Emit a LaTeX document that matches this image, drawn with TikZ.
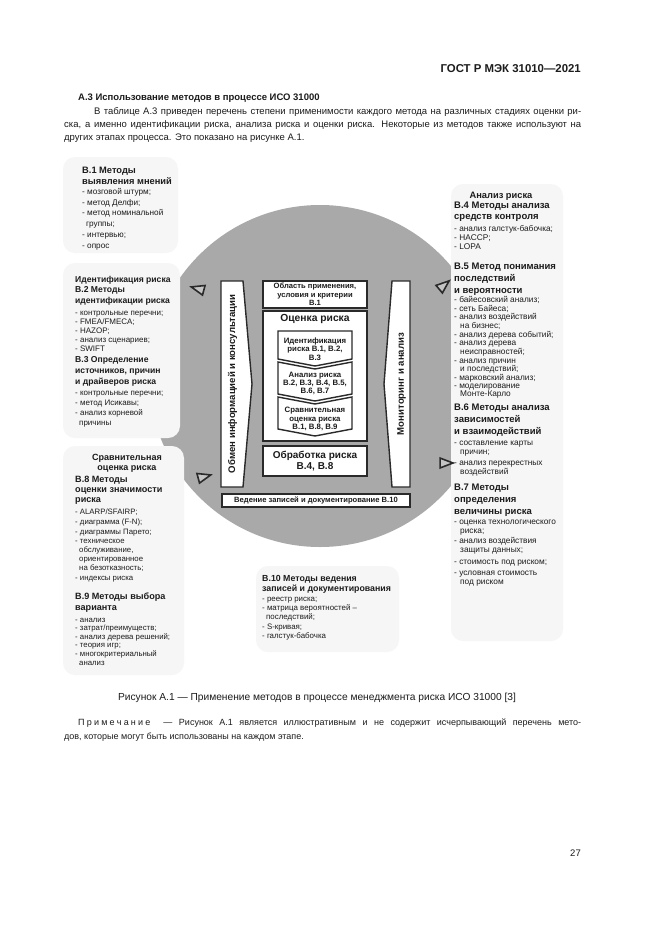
\documentclass[tikz,border=0pt]{standalone}
\usepackage{fontspec}
\setmainfont{Liberation Sans}
\usetikzlibrary{calc}
\definecolor{disc}{HTML}{A9A9A9}
\definecolor{boxbg}{HTML}{F6F6F6}
\definecolor{frame}{HTML}{2A2A2A}
\definecolor{ink}{HTML}{1C1C1C}
\definecolor{trifill}{HTML}{C4C4C4}
\newcounter{lnc}
\newcommand\TL[3]{\stepcounter{lnc}\edef\lname{ln\arabic{lnc}}\node[#1] (\lname) at (#2) {#3};}
\newcommand\Tri[3]{\draw[tri] ($(#2)+(-#3:8)$) -- ($(#2)+(-#3+135:7)$) -- ($(#2)+(-#3-135:7)$) -- cycle;\coordinate (#1) at (#2);}
\begin{document}
\begin{tikzpicture}[x=1pt,y=-1pt,
  every node/.style={text=ink},
  mbox/.style={fill=boxbg, rounded corners=12pt, draw=none},
  hd/.style={anchor=base west, inner sep=0pt, font=\fontsize{#1}{10}\selectfont\bfseries},
  hd/.default=8.6,
  hdc/.style={anchor=base, inner sep=0pt, font=\fontsize{#1}{10}\selectfont\bfseries},
  hdc/.default=8.6,
  it/.style={anchor=base west, inner sep=0pt, font=\fontsize{#1}{9}\selectfont},
  it/.default=8,
  pbox/.style={draw=frame, line width=1.4pt, fill=white, line join=miter},
  ptext/.style={font=\fontsize{7.8}{8.4}\selectfont\bfseries, align=center, inner sep=0pt},
  tri/.style={draw=frame, line width=1.6pt, fill=trifill, line join=miter},
  body/.style={anchor=base west, inner sep=0pt, font=\fontsize{9.5}{13}\selectfont},
]
\useasboundingbox (0,0) rectangle (661,935);
\fill[white] (0,0) rectangle (661,935);

% header
\node[anchor=base east, inner sep=0pt, font=\fontsize{11.4}{13}\selectfont\bfseries] (hdr) at (581,72) {ГОСТ Р МЭК 31010—2021};
\node[anchor=base west, inner sep=0pt, font=\fontsize{9.5}{11}\selectfont\bfseries] (sec) at (78,100) {А.3 Использование методов в процессе ИСО 31000};
\node[body] (p1) at (94,114) {\makebox[487pt][s]{В таблице А.3 приведен перечень степени применимости каждого метода на различных стадиях оценки ри-}};
\node[body] (p2) at (64,127) {\makebox[517pt][s]{ска, а именно идентификации риска, анализа риска и оценки риска. Некоторые из методов также используют на}};
\node[body] (p3) at (64,140) {других этапах процесса. Это показано на рисунке А.1.};

% big disc
\fill[disc] (320,376) circle (171);

% method boxes
\fill[mbox] (63,157) rectangle (178,253);
\fill[mbox] (63,263) rectangle (180,438);
\fill[mbox] (63,446) rectangle (184,675);
\fill[mbox] (451,184) rectangle (563,641);
\fill[mbox] (256,566) rectangle (399,652);

% B.1
\TL{hd=9.3}{82,173}{В.1 Методы}
\TL{hd=9.3}{82,184}{выявления мнений}
\TL{it=8.2}{82,194}{- мозговой штурм;}
\TL{it=8.2}{82,205}{- метод Делфи;}
\TL{it=8.2}{82,215.5}{- метод номинальной}
\TL{it=8.2}{86,226}{группы;}
\TL{it=8.2}{82,237}{- интервью;}
\TL{it=8.2}{82,248}{- опрос}

% identification
\TL{hd}{75,282}{Идентификация риска}
\TL{hd}{75,292}{В.2 Методы}
\TL{hd}{75,303}{идентификации риска}
\TL{it}{75,315}{- контрольные перечни;}
\TL{it}{75,324}{- FMEA/FMECA;}
\TL{it}{75,333}{- HAZOP;}
\TL{it}{75,342}{- анализ сценариев;}
\TL{it}{75,351}{- SWIFT}
\TL{hd}{75,362}{В.3 Определение}
\TL{hd}{75,373}{источников, причин}
\TL{hd}{75,384}{и драйверов риска}
\TL{it}{75,395}{- контрольные перечни;}
\TL{it}{75,405}{- метод Исикавы;}
\TL{it}{75,415}{- анализ корневой}
\TL{it}{79,425}{причины}

% comparative
\TL{hdc=9}{127,460}{Сравнительная}
\TL{hdc=9}{127,470}{оценка риска}
\TL{hd=9.1}{75,482}{В.8 Методы}
\TL{hd=9.1}{75,492}{оценки значимости}
\TL{hd=9.1}{75,502}{риска}
\TL{it=7.8}{75,514}{- ALARP/SFAIRP;}
\TL{it=7.8}{75,524}{- диаграмма (F-N);}
\TL{it=7.8}{75,534}{- диаграммы Парето;}
\TL{it=7.8}{75,543}{- техническое}
\TL{it=7.8}{79,552}{обслуживание,}
\TL{it=7.8}{79,561}{ориентированное}
\TL{it=7.8}{79,570}{на безотказность;}
\TL{it=7.8}{75,580}{- индексы риска}
\TL{hd=9.1}{75,599}{В.9 Методы выбора}
\TL{hd=9.1}{75,610}{варианта}
\TL{it=7.8}{75,622}{- анализ}
\TL{it=7.8}{75,630}{- затрат/преимуществ;}
\TL{it=7.8}{75,639}{- анализ дерева решений;}
\TL{it=7.8}{75,647}{- теория игр;}
\TL{it=7.8}{75,656}{- многокритериальный}
\TL{it=7.8}{79,665}{анализ}

% right column
\TL{hdc=9.3}{501,198}{Анализ риска}
\TL{hd=9.5}{454,208}{В.4 Методы анализа}
\TL{hd=9.5}{454,219}{средств контроля}
\TL{it=8.3}{454,231}{- анализ галстук-бабочка;}
\TL{it=8.3}{454,240}{- HACCP;}
\TL{it=8.3}{454,249}{- LOPA}
\TL{hd=9.5}{454,269}{В.5 Метод понимания}
\TL{hd=9.5}{454,281}{последствий}
\TL{hd=9.5}{454,293}{и вероятности}
\TL{it=8.3}{454,302}{- байесовский анализ;}
\TL{it=8.3}{454,311}{- сеть Байеса;}
\TL{it=8.3}{454,319}{- анализ воздействий}
\TL{it=8.3}{460,328}{на бизнес;}
\TL{it=8.3}{454,337}{- анализ дерева событий;}
\TL{it=8.3}{454,345}{- анализ дерева}
\TL{it=8.3}{460,354}{неисправностей;}
\TL{it=8.3}{454,363}{- анализ причин}
\TL{it=8.3}{460,371}{и последствий;}
\TL{it=8.3}{454,380}{- марковский анализ;}
\TL{it=8.3}{454,388}{- моделирование}
\TL{it=8.3}{460,396}{Монте-Карло}
\TL{hd=9.5}{454,410}{В.6 Методы анализа}
\TL{hd=9.5}{454,422}{зависимостей}
\TL{hd=9.5}{454,434}{и взаимодействий}
\TL{it=8.3}{454,445}{- составление карты}
\TL{it=8.3}{460,454}{причин;}
\TL{it=8.3}{454,465}{- анализ перекрестных}
\TL{it=8.3}{460,474}{воздействий}
\TL{hd=9.5}{454,490}{В.7 Методы}
\TL{hd=9.5}{454,502}{определения}
\TL{hd=9.5}{454,514}{величины риска}
\TL{it=8.3}{454,524}{- оценка технологического}
\TL{it=8.3}{460,533}{риска;}
\TL{it=8.3}{454,543}{- анализ воздействия}
\TL{it=8.3}{460,552}{защиты данных;}
\TL{it=8.3}{454,564}{- стоимость под риском;}
\TL{it=8.3}{454,575}{- условная стоимость}
\TL{it=8.3}{460,584}{под риском}

% B.10
\TL{hd=8.8}{262,581}{В.10 Методы ведения}
\TL{hd=8.8}{262,591}{записей и документирования}
\TL{it=7.9}{262,601}{- реестр риска;}
\TL{it=7.9}{262,610}{- матрица вероятностей –}
\TL{it=7.9}{266,619}{последствий;}
\TL{it=7.9}{262,629}{- S-кривая;}
\TL{it=7.9}{262,638}{- галстук-бабочка}

% triangles
\Tri{tUL}{199,289}{165}
\Tri{tUR}{443,286}{40}
\Tri{tLL}{203,477}{15}
\Tri{tLR}{445,463}{0}

% process: side bars
\draw[pbox] (221,281) -- (243,281) -- (252,384) -- (243,487) -- (221,487) -- cycle;
\node[rotate=90, inner sep=0pt, font=\fontsize{9.6}{11}\selectfont\bfseries] (comm) at (232.5,384) {Обмен информацией и консультации};
\draw[pbox] (410,281) -- (392,281) -- (384,384) -- (392,487) -- (410,487) -- cycle;
\node[rotate=90, inner sep=0pt, font=\fontsize{9.6}{11}\selectfont\bfseries] (mon) at (401.5,384) {Мониторинг и анализ};

% process: centre column
\node[pbox, ptext, font=\fontsize{7.6}{8.3}\selectfont\bfseries, minimum width=104pt, minimum height=27pt] (scope) at (315,294.5) {Область применения,\\условия и критерии\\В.1};
\node[pbox, minimum width=104pt, minimum height=130pt] (assess) at (315,376) {};
\node[inner sep=0pt, font=\fontsize{10.3}{11}\selectfont\bfseries] (assesst) at (315,319) {Оценка риска};
\draw[pbox] (278,331) -- (352,331) -- (352,359) -- (315,366) -- (278,359) -- cycle;
\node[ptext] (ident) at (315,349) {Идентификация\\риска В.1, В.2,\\В.3};
\draw[pbox] (278,362) -- (315,369) -- (352,362) -- (352,394) -- (315,401) -- (278,394) -- cycle;
\node[ptext] (anal) at (315,383.5) {Анализ риска\\В.2, В.3, В.4, В.5,\\В.6, В.7};
\draw[pbox] (278,397) -- (315,404) -- (352,397) -- (352,429) -- (315,436) -- (278,429) -- cycle;
\node[ptext] (evalu) at (315,419) {Сравнительная\\оценка риска\\В.1, В.8, В.9};
\node[pbox, align=center, inner sep=0pt, minimum width=104pt, minimum height=30pt, font=\fontsize{10}{11.8}\selectfont\bfseries] (treat) at (315,461) {Обработка риска\\В.4, В.8};
\node[pbox, inner sep=0pt, minimum width=188pt, minimum height=13pt, font=\fontsize{7.6}{8}\selectfont\bfseries] (records) at (316,500.5) {Ведение записей и документирование В.10};

% caption and note
\node[anchor=base, inner sep=0pt, font=\fontsize{10.2}{12}\selectfont] (cap) at (317,700) {Рисунок А.1 — Применение методов в процессе менеджмента риска ИСО 31000 [3]};
\node[anchor=base west, inner sep=0pt, font=\fontsize{9}{11}\selectfont] (note1) at (78,725) {\makebox[503pt][s]{П\kern2.2pt р\kern2.2pt и\kern2.2pt м\kern2.2pt е\kern2.2pt ч\kern2.2pt а\kern2.2pt н\kern2.2pt и\kern2.2pt е \ — Рисунок А.1 является иллюстративным и не содержит исчерпывающий перечень мето-}};
\node[anchor=base west, inner sep=0pt, font=\fontsize{9}{11}\selectfont] (note2) at (64,739) {дов, которые могут быть использованы на каждом этапе.};
\node[anchor=base east, inner sep=0pt, font=\fontsize{9.5}{11}\selectfont] (pg) at (581,856) {27};
\end{tikzpicture}
\end{document}
